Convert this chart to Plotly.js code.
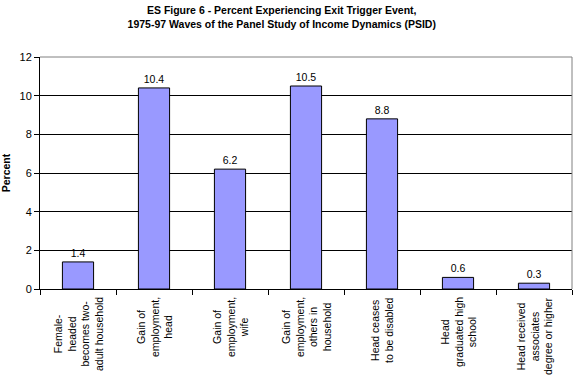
<!DOCTYPE html>
<html>
<head>
<meta charset="utf-8">
<script src="https://cdn.plot.ly/plotly-3.0.1.min.js"></script>
<style>html,body{margin:0;padding:0;background:#fff;}#chart{width:575px;height:378px;}</style>
</head>
<body>
<div id="chart"></div>
<script>
const categories = ["c1","c2","c3","c4","c5","c6","c7"];
const tickLabels = [
  "Female-<br>headed<br>becomes two-<br>adult household",
  "Gain of<br>employment,<br>head",
  "Gain of<br>employment,<br>wife",
  "Gain of<br>employment,<br>others in<br>household",
  "Head ceases<br>to be disabled",
  "Head<br>graduated high<br>school",
  "Head received<br>associates<br>degree or higher"
];
const percentValues = [1.4, 10.4, 6.2, 10.5, 8.8, 0.6, 0.3];
const valueLabels = ["1.4","10.4","6.2","10.5","8.8","0.6","0.3"];
const yTicks = [0, 2, 4, 6, 8, 10, 12];

const FONT = "Arial, 'Liberation Sans', sans-serif";

const trace = {
  type: "bar",
  x: categories,
  y: percentValues,
  text: valueLabels,
  textposition: "outside",
  cliponaxis: false,
  textfont: {family: FONT, size: 10.5, color: "#000"},
  marker: {color: "#9999FF", line: {color: "#000", width: 1}},
  hoverinfo: "skip"
};

const annotations = tickLabels.map((t, i) => ({
  text: t,
  x: categories[i],
  xref: "x",
  y: 0,
  yref: "paper",
  yanchor: "top",
  xanchor: "center",
  yshift: -6,
  textangle: -90,
  align: "center",
  showarrow: false,
  font: {family: FONT, size: 10.5, color: "#000"}
}));

const layout = {
  width: 575,
  height: 378,
  margin: {l: 40, r: 3, t: 57, b: 89, pad: 0},
  paper_bgcolor: "#fff",
  plot_bgcolor: "#fff",
  showlegend: false,
  bargap: 0.59,
  title: {
    text: "<b>ES Figure 6 - Percent Experiencing Exit Trigger Event,<br>1975-97 Waves of the Panel Study of Income Dynamics (PSID)</b>",
    font: {family: FONT, size: 10.5, color: "#000"},
    x: 0.49, xref: "container", xanchor: "center",
    y: 0.963, yref: "container", yanchor: "top"
  },
  xaxis: {
    type: "category",
    categoryorder: "array",
    categoryarray: categories,
    range: [-0.5, 6.5],
    showticklabels: false,
    ticks: "outside",
    tickson: "boundaries",
    ticklen: 5,
    tickcolor: "#000",
    tickwidth: 1,
    showline: true,
    linecolor: "#000",
    linewidth: 1,
    showgrid: false,
    zeroline: false,
    fixedrange: true
  },
  yaxis: {
    range: [0, 12],
    tickvals: yTicks,
    ticktext: yTicks.map(String),
    ticks: "outside",
    ticklen: 5,
    tickcolor: "#000",
    tickwidth: 1,
    tickfont: {family: FONT, size: 11, color: "#000"},
    showline: true,
    linecolor: "#000",
    linewidth: 1,
    showgrid: true,
    gridcolor: "#000",
    gridwidth: 1,
    zeroline: false,
    fixedrange: true,
    title: {text: "<b>Percent</b>", font: {family: FONT, size: 10.5, color: "#000"}, standoff: 9}
  },
  shapes: [
    {type: "line", xref: "paper", yref: "paper", x0: 0, x1: 1, y0: 1, y1: 1, line: {color: "#808080", width: 1}, layer: "above"},
    {type: "line", xref: "paper", yref: "paper", x0: 1, x1: 1, y0: 0, y1: 1, line: {color: "#808080", width: 1}, layer: "above"}
  ],
  annotations: annotations
};

Plotly.newPlot("chart", [trace], layout, {displayModeBar: false, staticPlot: true});
</script>
</body>
</html>
